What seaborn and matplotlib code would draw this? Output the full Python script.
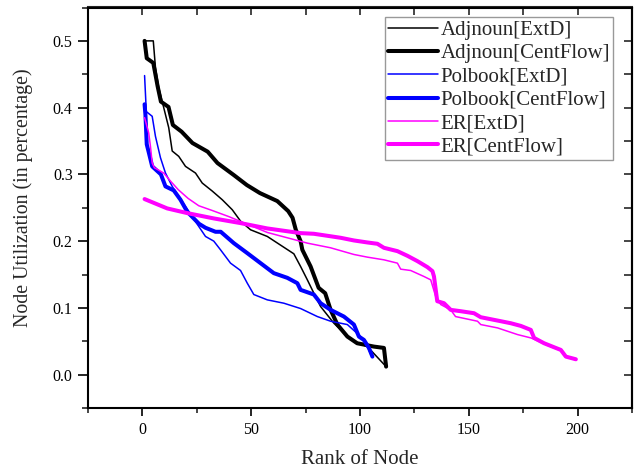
import matplotlib
matplotlib.use("Agg")
import matplotlib.pyplot as plt
import seaborn as sns
import numpy as np
import pandas as pd
from matplotlib.ticker import MultipleLocator

# ---------------- data ----------------
adj_ext_rank = [1, 5, 6, 7.5, 9.8, 12.1, 13.7, 16.7, 19.8, 24.4, 27.5, 32.1, 36.7, 41.3,
                45.1, 49.7, 57.4, 63.5, 69.6, 72.7, 75.8, 78.8, 81.9, 88, 92.6, 97.2,
                103.4, 112]
adj_ext_val = [0.5, 0.5, 0.46, 0.43, 0.40, 0.37, 0.335, 0.327, 0.312, 0.302, 0.287, 0.275,
               0.262, 0.247, 0.23, 0.217, 0.207, 0.194, 0.181, 0.162, 0.142, 0.122, 0.102,
               0.077, 0.062, 0.05, 0.042, 0.012]

adj_cf_rank = [1, 2, 5, 7, 8.5, 12, 14, 18, 23, 30, 34.5, 42, 48, 54, 62, 67, 69, 70.5,
               72.7, 73.5, 77.3, 81, 84, 86.5, 89.6, 94.2, 98.7, 106.4, 111, 112]
adj_cf_val = [0.5, 0.474, 0.467, 0.432, 0.409, 0.401, 0.374, 0.364, 0.347, 0.334, 0.317,
              0.299, 0.284, 0.272, 0.26, 0.245, 0.235, 0.217, 0.2, 0.187, 0.162, 0.13,
              0.122, 0.097, 0.075, 0.057, 0.047, 0.042, 0.04, 0.012]

pol_ext_rank = [1, 1.8, 4.5, 6, 8.3, 10.6, 13.7, 16.7, 19.8, 22.9, 25.9, 29, 32.8, 35.9,
                40.5, 45.1, 48.2, 51.2, 57.4, 65, 72.7, 80.4, 86.5, 94.2, 100.3, 103.4, 105]
pol_ext_val = [0.448, 0.394, 0.387, 0.357, 0.325, 0.302, 0.282, 0.267, 0.252, 0.237, 0.222,
               0.207, 0.2, 0.187, 0.167, 0.156, 0.137, 0.12, 0.112, 0.107, 0.099, 0.087,
               0.08, 0.075, 0.057, 0.042, 0.03]

pol_cf_rank = [1, 1.4, 2, 3, 4.5, 8.5, 10.6, 14.4, 17.5, 20.6, 23.6, 26, 29, 33.6, 36, 42,
               48.2, 54.3, 60.4, 66.6, 71.2, 72.7, 78.8, 81.9, 86.5, 92.6, 97.2, 99.5,
               101.8, 104.1, 105.7]
pol_cf_val = [0.405, 0.389, 0.345, 0.332, 0.312, 0.3, 0.282, 0.276, 0.262, 0.244, 0.234,
              0.226, 0.22, 0.214, 0.214, 0.197, 0.182, 0.167, 0.152, 0.145, 0.137, 0.127,
              0.12, 0.107, 0.097, 0.087, 0.075, 0.057, 0.052, 0.04, 0.027]

er_ext_rank = [1, 2.9, 3.7, 4.5, 5.5, 9.8, 12.9, 16.5, 21, 25.9, 32, 39.5, 45.5, 57.4, 66.6,
               75.8, 86.5, 97.2, 103.4, 111, 117.2, 118.7, 123.3, 129.4, 132.5, 134.8, 137.1,
               141.7, 143.9, 154, 155.5, 163.2, 172.4, 178.5, 180, 184.6, 189.2, 192.3,
               194.6, 199]
er_ext_val = [0.385, 0.362, 0.342, 0.317, 0.31, 0.302, 0.29, 0.277, 0.264, 0.253, 0.246,
              0.237, 0.229, 0.213, 0.205, 0.197, 0.19, 0.18, 0.176, 0.172, 0.167, 0.158,
              0.156, 0.147, 0.142, 0.117, 0.105, 0.097, 0.087, 0.08, 0.075, 0.07, 0.06,
              0.055, 0.053, 0.046, 0.04, 0.036, 0.028, 0.022]

er_cf_rank = [1, 11.4, 20.6, 32.8, 45.1, 57.4, 72.7, 78.8, 85, 91.1, 97.2, 103.4, 108, 111,
              117.2, 121.8, 126.4, 131, 133.3, 134, 135.5, 138.6, 141.7, 146.3, 152.4, 155.5,
              163.2, 169.3, 173.9, 178.5, 180, 184.6, 189.2, 192.3, 194.6, 199.2]
er_cf_val = [0.263, 0.249, 0.242, 0.234, 0.227, 0.219, 0.212, 0.211, 0.208, 0.205, 0.201,
             0.198, 0.196, 0.19, 0.185, 0.178, 0.17, 0.161, 0.155, 0.147, 0.11, 0.107, 0.097,
             0.095, 0.092, 0.086, 0.081, 0.077, 0.073, 0.067, 0.055, 0.047, 0.041, 0.037,
             0.027, 0.023]

series_names = ["Adjnoun[ExtD]", "Adjnoun[CentFlow]", "Polbook[ExtD]",
                "Polbook[CentFlow]", "ER[ExtD]", "ER[CentFlow]"]
series_ranks = [adj_ext_rank, adj_cf_rank, pol_ext_rank, pol_cf_rank, er_ext_rank, er_cf_rank]
series_vals = [adj_ext_val, adj_cf_val, pol_ext_val, pol_cf_val, er_ext_val, er_cf_val]
series_colors = ["#000000", "#000000", "#0000FF", "#0000FF", "#FF00FF", "#FF00FF"]
series_widths = [1.1, 2.9, 1.1, 2.9, 1.1, 2.9]

# ---------------- styling ----------------
sns.set_theme(style="ticks")
plt.rcParams["font.family"] = ["Liberation Serif", "DejaVu Serif"]

fig = plt.figure(figsize=(6.41, 4.70), dpi=100)
ax = fig.add_axes([88 / 641, 62 / 470, 544 / 641, 400.5 / 470])

for name, xr, yv, c, lw in zip(series_names, series_ranks, series_vals,
                               series_colors, series_widths):
    df = pd.DataFrame({"rank": xr, "val": yv})
    sns.lineplot(data=df, x="rank", y="val", ax=ax, color=c, linewidth=lw,
                 label=name, estimator=None, sort=False)

ax.set_xlim(-25, 225)
ax.set_ylim(-0.05, 0.55)
ax.xaxis.set_minor_locator(MultipleLocator(25))
ax.yaxis.set_minor_locator(MultipleLocator(0.05))
ax.set_xticks([0, 50, 100, 150, 200])
ax.set_yticks([0.0, 0.1, 0.2, 0.3, 0.4, 0.5])
ax.set_yticklabels(["0.0", "0.1", "0.2", "0.3", "0.4", "0.5"])

ax.tick_params(axis="x", which="major", direction="out", length=5.5, width=1.2,
               labelsize=11.5, colors="black", pad=4.5)
ax.tick_params(axis="x", which="minor", direction="out", length=3.6, width=1.2)
ax.tick_params(axis="y", which="major", direction="out", length=7, width=1.2,
               labelsize=11.5, colors="black", pad=4)
ax.tick_params(axis="y", which="minor", direction="out", length=4, width=1.2)

for sp in ax.spines.values():
    sp.set_visible(True)
    sp.set_linewidth(1.5)
    sp.set_color("black")

# mirrored inward ticks on top and right
top = ax.secondary_xaxis("top")
top.set_xticks(np.arange(-25, 226, 25))
top.tick_params(direction="in", length=6, width=1.2, labeltop=False)
top.spines["top"].set_linewidth(1.5)
right = ax.secondary_yaxis("right")
right.set_yticks(np.arange(-0.05, 0.551, 0.05))
right.tick_params(direction="in", length=6, width=1.2, labelright=False)
right.spines["right"].set_linewidth(1.5)

ax.set_xlabel("Rank of Node", fontsize=15, labelpad=9)
ax.set_ylabel("Node Utilization (in percentage)", fontsize=14.3)
ax.yaxis.set_label_coords(-0.101, 0.524)

leg = ax.legend(loc="upper right", bbox_to_anchor=(0.965, 0.976),
                bbox_transform=ax.transAxes, borderaxespad=0, fontsize=15,
                frameon=True, fancybox=False, edgecolor="#808080",
                handlelength=2.4, handletextpad=0.1, labelspacing=0.18,
                borderpad=0.15)
leg.get_frame().set_linewidth(1.0)

fig.savefig("out.png", dpi=100)
